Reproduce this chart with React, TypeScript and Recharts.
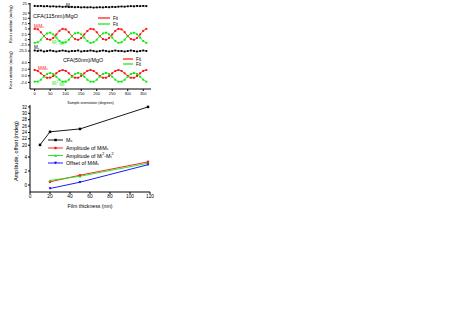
import React from 'react';
import { LineChart, Line, XAxis, YAxis } from 'recharts';

// ---------- data ----------
const angles = [0, 10, 20, 30, 40, 50, 60, 70, 80, 90, 100, 110, 120, 130, 140, 150, 160, 170, 180, 190, 200, 210, 220, 230, 240, 250, 260, 270, 280, 290, 300, 310, 320, 330, 340, 350, 360];
const angleTicks = [0, 50, 100, 150, 200, 250, 300, 350];

// CFA(115nm)/MgO
const msCfa115 = [23.9, 23.8, 23.9, 23.7, 23.8, 23.6, 23.7, 23.5, 23.6, 23.4, 23.5, 23.3, 23.4, 23.2, 23.3, 23.1, 23.2, 23.1, 23.2, 23.0, 23.1, 23.2, 23.1, 23.3, 23.2, 23.4, 23.3, 23.5, 23.6, 23.5, 23.7, 23.8, 23.7, 23.9, 23.8, 23.9, 23.8];
const mlmsCfa115 = [5.04, 4.83, 3.45, 1.72, 0.28, -0.05, 0.78, 2.38, 4.12, 5.02, 4.78, 3.5, 1.68, 0.33, -0.09, 0.74, 2.43, 4.07, 5.06, 4.82, 3.46, 1.73, 0.27, -0.06, 0.79, 2.4, 4.11, 5.01, 4.79, 3.49, 1.69, 0.31, -0.08, 0.75, 2.42, 4.09, 5.03];
const mlmtCfa115 = [-1.5, -1.25, -0.07, 1.61, 2.87, 3.25, 2.44, 0.95, -0.61, -1.48, -1.29, -0.03, 1.57, 2.91, 3.21, 2.48, 0.91, -0.65, -1.52, -1.26, -0.06, 1.6, 2.88, 3.24, 2.45, 0.94, -0.62, -1.49, -1.28, -0.04, 1.58, 2.9, 3.22, 2.47, 0.92, -0.64, -1.51];

// CFA(50nm)/MgO
const msCfa50 = [25.6, 25.5, 25.6, 25.4, 25.5, 25.6, 25.5, 25.4, 25.5, 25.6, 25.5, 25.4, 25.5, 25.5, 25.6, 25.4, 25.5, 25.5, 25.6, 25.5, 25.4, 25.5, 25.6, 25.5, 25.4, 25.5, 25.6, 25.5, 25.5, 25.4, 25.5, 25.6, 25.5, 25.4, 25.5, 25.6, 25.5];
const mlmsCfa50 = [1.75, 1.49, 0.74, -0.03, -0.6, -0.56, -0.07, 0.78, 1.45, 1.73, 1.48, 0.77, -0.06, -0.57, -0.59, -0.04, 0.75, 1.49, 1.76, 1.46, 0.78, -0.05, -0.59, -0.57, -0.06, 0.77, 1.46, 1.74, 1.48, 0.75, -0.04, -0.58, -0.6, -0.05, 0.76, 1.48, 1.75];
const mlmtCfa50 = [-1.77, -1.75, -1.19, -0.26, 0.55, 0.84, 0.51, -0.28, -1.16, -1.78, -1.76, -1.17, -0.29, 0.52, 0.86, 0.54, -0.25, -1.19, -1.76, -1.78, -1.18, -0.27, 0.54, 0.85, 0.52, -0.27, -1.17, -1.77, -1.76, -1.19, -0.26, 0.53, 0.84, 0.55, -0.28, -1.18, -1.77];

// thickness dependence
const thicknessMs = [10, 20, 50, 118];
const msValues = [20.1, 24.2, 25.1, 32.0];
const thicknessFit = [20, 50, 118];
const ampMlMs = [0.45, 1.4, 3.3];
const ampMl2Mt2 = [0.65, 1.25, 3.1];
const offsetMlMs = [-0.5, 0.4, 2.9];
const thicknessTicks = [0, 20, 40, 60, 80, 100, 120];

const rows115 = angles.map((a, i) => ({ angle: a, ms: msCfa115[i], mlms: mlmsCfa115[i], mlmt: mlmtCfa115[i] }));
const rows50 = angles.map((a, i) => ({ angle: a, ms: msCfa50[i], mlms: mlmsCfa50[i], mlmt: mlmtCfa50[i] }));
const rowsMs = thicknessMs.map((t, i) => ({ t, ms: msValues[i] }));
const rowsFit = thicknessFit.map((t, i) => ({ t, amp: ampMlMs[i], amp2: ampMl2Mt2[i], off: offsetMlMs[i] }));

// ---------- styles ----------
const FONT = '"Liberation Sans", Arial, Helvetica, sans-serif';
const RED = '#ff1010';
const GREEN = '#10e810';
const BLUE = '#0000ff';
const ANGLE_DOMAIN: [number, number] = [-15, 375];
const THICK_DOMAIN: [number, number] = [0, 120];
const PAD = 4;

// ---------- markers ----------
function squareDot(color: string, size: number) {
  return (props: any) => {
    const { cx, cy, index } = props;
    if (cx == null || cy == null) return <g key={`n${index}`} />;
    return <rect key={`s${index}`} x={cx - size / 2} y={cy - size / 2} width={size} height={size} fill={color} />;
  };
}
function circleDot(color: string, r: number) {
  return (props: any) => {
    const { cx, cy, index } = props;
    if (cx == null || cy == null) return <g key={`n${index}`} />;
    return <circle key={`c${index}`} cx={cx} cy={cy} r={r} fill={color} />;
  };
}
function triDot(color: string, s: number, down: boolean) {
  return (props: any) => {
    const { cx, cy, index } = props;
    if (cx == null || cy == null) return <g key={`n${index}`} />;
    const h = s * 0.9;
    const pts = down
      ? `${cx - s / 2},${cy - h / 2} ${cx + s / 2},${cy - h / 2} ${cx},${cy + h / 2}`
      : `${cx - s / 2},${cy + h / 2} ${cx + s / 2},${cy + h / 2} ${cx},${cy - h / 2}`;
    return <polygon key={`t${index}`} points={pts} fill={color} />;
  };
}

// ---------- strip chart ----------
type StripProps = {
  top: number;
  height: number;
  rightMargin: number;
  data: any[];
  xKey: string;
  xDomain: [number, number];
  xTicks: number[];
  yDomain: [number, number];
  yTicks: number[];
  yFmt?: (v: number) => string;
  yTickFont: number;
  topFrame?: boolean;
  bottomMode: 'none' | 'ticks' | 'labels';
  bottomHeight?: number;
  xTickFont?: number;
  xLabel?: string;
  xLabelSize?: number;
  xLabelOffset?: number;
  children: React.ReactNode;
};

function Strip(p: StripProps) {
  const labels = p.bottomMode === 'labels';
  const bottomPad = labels ? 0 : PAD;
  const chartH = PAD + p.height + (labels ? p.bottomHeight || 0 : PAD);
  return (
    <div style={{ position: 'absolute', left: 0, top: p.top - PAD }}>
      <LineChart width={160} height={chartH} data={p.data} margin={{ top: PAD, right: p.rightMargin, bottom: bottomPad, left: 0 }}>
        {p.bottomMode === 'none' && (
          <XAxis dataKey={p.xKey} type="number" domain={p.xDomain} ticks={p.xTicks} hide allowDataOverflow />
        )}
        {p.bottomMode === 'ticks' && (
          <XAxis dataKey={p.xKey} type="number" domain={p.xDomain} ticks={p.xTicks} interval={0} tick={false}
            tickSize={2} mirror height={0} stroke="#000" allowDataOverflow />
        )}
        {labels && (
          <XAxis dataKey={p.xKey} type="number" domain={p.xDomain} ticks={p.xTicks} interval={0}
            tickSize={2} tickMargin={1} height={p.bottomHeight} stroke="#000" allowDataOverflow
            tick={{ fontSize: p.xTickFont, fill: '#000' }}
            label={{ value: p.xLabel, position: 'insideBottom', offset: p.xLabelOffset, fontSize: p.xLabelSize, fill: '#000' }} />
        )}
        {p.topFrame && (
          <XAxis xAxisId="top" orientation="top" dataKey={p.xKey} type="number" domain={p.xDomain} ticks={p.xTicks}
            interval={0} tick={false} tickSize={2} mirror height={0} stroke="#000" allowDataOverflow />
        )}
        <YAxis type="number" domain={p.yDomain} ticks={p.yTicks} interval={0} width={30} tickSize={2} tickMargin={1}
          stroke="#000" tick={{ fontSize: p.yTickFont, fill: '#000' }} tickFormatter={p.yFmt} allowDataOverflow />
        <YAxis yAxisId="r" orientation="right" type="number" domain={p.yDomain} ticks={p.yTicks} interval={0}
          tick={false} tickSize={2} mirror width={0} stroke="#000" allowDataOverflow />
        {p.children}
      </LineChart>
    </div>
  );
}

// ---------- text helpers ----------
function MlMs({ x, y, size, color }: { x: number; y: number; size: number; color: string }) {
  const s = size * 0.7;
  return (
    <text x={x} y={y} fontSize={size} fill={color} dominantBaseline="central">
      M<tspan fontSize={s} dy={1}>l</tspan><tspan dy={-1}>M</tspan><tspan fontSize={s} dy={1}>s</tspan>
    </text>
  );
}
function Ml2Mt2({ x, y, size, color, prefix }: { x: number; y: number; size: number; color: string; prefix?: string }) {
  const s = size * 0.7;
  return (
    <text x={x} y={y} fontSize={size} fill={color} dominantBaseline="central">
      {prefix || ''}M<tspan fontSize={s} dy={1}>l</tspan><tspan fontSize={s} dy={-2.6}>2</tspan>
      <tspan dy={1.6}>-M</tspan><tspan fontSize={s} dy={1}>t</tspan><tspan fontSize={s} dy={-2.6}>2</tspan>
    </text>
  );
}
function Ms({ x, y, size, color, prefix }: { x: number; y: number; size: number; color: string; prefix?: string }) {
  const s = size * 0.7;
  return (
    <text x={x} y={y} fontSize={size} fill={color} dominantBaseline="central">
      {prefix || ''}M<tspan fontSize={s} dy={1}>s</tspan>
    </text>
  );
}

function Overlay() {
  const legRows = [140, 148, 155.5, 163];
  return (
    <svg width={463} height={328} style={{ position: 'absolute', left: 0, top: 0, pointerEvents: 'none' }}>
      {/* axis titles */}
      <text transform="translate(10,24) rotate(-90)" textAnchor="middle" dominantBaseline="central" fontSize={4.2} fill="#000">Kerr rotation (mdeg)</text>
      <text transform="translate(10,70) rotate(-90)" textAnchor="middle" dominantBaseline="central" fontSize={4.2} fill="#000">Kerr rotation (mdeg)</text>
      <text transform="translate(16,151) rotate(-90)" textAnchor="middle" dominantBaseline="central" fontSize={5.5} fill="#000">Amplitude, offset (mdeg)</text>

      {/* panel 1 annotations */}
      <Ms x={66} y={5.5} size={4.5} color="#000" />
      <text x={33} y={16} fontSize={5.6} fill="#000" dominantBaseline="central">CFA(115nm)/MgO</text>
      <MlMs x={34} y={26} size={4.5} color={RED} />
      <Ml2Mt2 x={52} y={42.5} size={4.5} color={GREEN} />
      <line x1={98} x2={110} y1={18} y2={18} stroke={RED} strokeWidth={1.2} />
      <text x={113} y={18} fontSize={4.5} fill="#000" dominantBaseline="central">Fit</text>
      <line x1={98} x2={110} y1={24} y2={24} stroke={GREEN} strokeWidth={1.2} />
      <text x={113} y={24} fontSize={4.5} fill="#000" dominantBaseline="central">Fit</text>

      {/* panel 2 annotations */}
      <Ms x={34} y={47.5} size={4.5} color="#000" />
      <text x={63} y={60} fontSize={5.3} fill="#000" dominantBaseline="central">CFA(50nm)/MgO</text>
      <MlMs x={38} y={68} size={4.5} color={RED} />
      <Ml2Mt2 x={52} y={83.5} size={4.5} color={GREEN} />
      <line x1={123} x2={133} y1={59} y2={59} stroke={RED} strokeWidth={1.2} />
      <text x={136} y={59} fontSize={4.5} fill="#000" dominantBaseline="central">Fit</text>
      <line x1={123} x2={133} y1={64} y2={64} stroke={GREEN} strokeWidth={1.2} />
      <text x={136} y={64} fontSize={4.5} fill="#000" dominantBaseline="central">Fit</text>

      {/* bottom legend */}
      <line x1={48} x2={63} y1={legRows[0]} y2={legRows[0]} stroke="#000" strokeWidth={0.9} />
      <rect x={54.3} y={legRows[0] - 1.25} width={2.5} height={2.5} fill="#000" />
      <Ms x={66} y={legRows[0]} size={5.3} color="#000" />

      <line x1={48} x2={63} y1={legRows[1]} y2={legRows[1]} stroke={RED} strokeWidth={0.9} />
      <circle cx={55.5} cy={legRows[1]} r={1.3} fill={RED} />
      <text x={66} y={legRows[1]} fontSize={5.3} fill="#000" dominantBaseline="central">
        Amplitude of M<tspan fontSize={3.7} dy={1}>l</tspan><tspan dy={-1}>M</tspan><tspan fontSize={3.7} dy={1}>s</tspan>
      </text>

      <line x1={48} x2={63} y1={legRows[2]} y2={legRows[2]} stroke={GREEN} strokeWidth={0.9} />
      <polygon points={`${54},${legRows[2] + 1.3} ${57},${legRows[2] + 1.3} ${55.5},${legRows[2] - 1.3}`} fill={GREEN} />
      <Ml2Mt2 x={66} y={legRows[2]} size={5.3} color="#000" prefix="Amplitude of " />

      <line x1={48} x2={63} y1={legRows[3]} y2={legRows[3]} stroke={BLUE} strokeWidth={0.9} />
      <polygon points={`${54},${legRows[3] - 1.3} ${57},${legRows[3] - 1.3} ${55.5},${legRows[3] + 1.3}`} fill={BLUE} />
      <text x={66} y={legRows[3]} fontSize={5.3} fill="#000" dominantBaseline="central">
        Offset of M<tspan fontSize={3.7} dy={1}>l</tspan><tspan dy={-1}>M</tspan><tspan fontSize={3.7} dy={1}>s</tspan>
      </text>
    </svg>
  );
}

export default function App() {
  const fmt1 = (v: number) => v.toFixed(1);
  const fmtP1 = (v: number) => String(v);
  return (
    <div style={{ position: 'absolute', left: 0, top: 0, width: 463, height: 328, background: '#fff', overflow: 'hidden', fontFamily: FONT }}>
      {/* Panel 1: CFA(115nm)/MgO */}
      <Strip top={3} height={11} rightMargin={9} data={rows115} xKey="angle" xDomain={ANGLE_DOMAIN} xTicks={angleTicks}
        yDomain={[19.5, 25.5]} yTicks={[20, 25]} yTickFont={4} topFrame bottomMode="none">
        <Line dataKey="ms" stroke="#000" strokeWidth={0.5} dot={squareDot('#000', 1.9)} isAnimationActive={false} type="linear" />
      </Strip>
      <Strip top={14} height={32} rightMargin={9} data={rows115} xKey="angle" xDomain={ANGLE_DOMAIN} xTicks={angleTicks}
        yDomain={[-3, 12]} yTicks={[-2.5, 0, 2.5, 5, 7.5, 10]} yFmt={fmtP1} yTickFont={4} bottomMode="ticks">
        <Line dataKey="mlms" stroke={RED} strokeWidth={0.9} dot={squareDot(RED, 1.9)} isAnimationActive={false} type="monotone" />
        <Line dataKey="mlmt" stroke={GREEN} strokeWidth={0.9} dot={squareDot(GREEN, 1.9)} isAnimationActive={false} type="monotone" />
      </Strip>

      {/* Panel 2: CFA(50nm)/MgO */}
      <Strip top={46} height={10} rightMargin={9} data={rows50} xKey="angle" xDomain={ANGLE_DOMAIN} xTicks={angleTicks}
        yDomain={[24.5, 26.5]} yTicks={[25.5]} yFmt={fmt1} yTickFont={4} topFrame bottomMode="none">
        <Line dataKey="ms" stroke="#000" strokeWidth={0.5} dot={squareDot('#000', 1.9)} isAnimationActive={false} type="linear" />
      </Strip>
      <Strip top={56} height={33} rightMargin={9} data={rows50} xKey="angle" xDomain={ANGLE_DOMAIN} xTicks={angleTicks}
        yDomain={[-4, 6]} yTicks={[-2, 0, 2, 4]} yFmt={fmt1} yTickFont={4} bottomMode="labels" bottomHeight={16}
        xTickFont={4} xLabel="Sample orientation (degrees)" xLabelSize={3.6} xLabelOffset={1}>
        <Line dataKey="mlms" stroke={RED} strokeWidth={0.9} dot={squareDot(RED, 1.9)} isAnimationActive={false} type="monotone" />
        <Line dataKey="mlmt" stroke={GREEN} strokeWidth={0.9} dot={squareDot(GREEN, 1.9)} isAnimationActive={false} type="monotone" />
      </Strip>

      {/* Bottom: thickness dependence */}
      <Strip top={105} height={45} rightMargin={10} data={rowsMs} xKey="t" xDomain={THICK_DOMAIN} xTicks={thicknessTicks}
        yDomain={[18.5, 32.6]} yTicks={[20, 22, 24, 26, 28, 30, 32]} yTickFont={4.5} topFrame bottomMode="none">
        <Line dataKey="ms" stroke="#000" strokeWidth={0.9} dot={squareDot('#000', 2.5)} isAnimationActive={false} type="linear" />
      </Strip>
      <Strip top={150} height={42} rightMargin={10} data={rowsFit} xKey="t" xDomain={THICK_DOMAIN} xTicks={thicknessTicks}
        yDomain={[-1, 5]} yTicks={[0, 2, 4]} yTickFont={4.5} bottomMode="labels" bottomHeight={18}
        xTickFont={4.8} xLabel="Film thickness (nm)" xLabelSize={5.2} xLabelOffset={2.5}>
        <Line dataKey="amp" stroke={RED} strokeWidth={0.9} dot={circleDot(RED, 1.3)} isAnimationActive={false} type="linear" />
        <Line dataKey="amp2" stroke={GREEN} strokeWidth={0.9} dot={triDot(GREEN, 2.8, false)} isAnimationActive={false} type="linear" />
        <Line dataKey="off" stroke={BLUE} strokeWidth={0.9} dot={triDot(BLUE, 2.8, true)} isAnimationActive={false} type="linear" />
      </Strip>

      <Overlay />
    </div>
  );
}
